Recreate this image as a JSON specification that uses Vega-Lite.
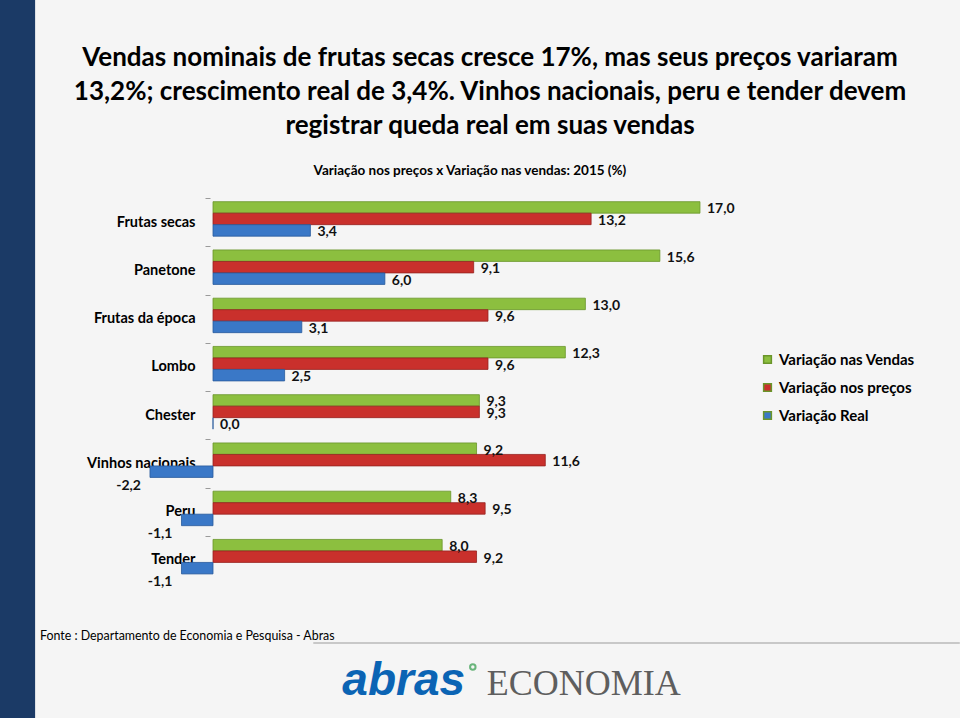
{
  "$schema": "https://vega.github.io/schema/vega-lite/v6.json",
  "autosize": {"type": "none"},
  "padding": {"left": 213, "top": 198, "right": 193, "bottom": 134},
  "width": 554,
  "height": 386,
  "background": "#f5f5f5",
  "title": {
    "text": [
      "Vendas nominais de frutas secas cresce 17%, mas seus preços variaram",
      "13,2%; crescimento real de 3,4%. Vinhos nacionais, peru e tender devem",
      "registrar queda real em suas vendas"
    ],
    "font": "Lato",
    "fontSize": 26,
    "fontWeight": "bold",
    "color": "#000000",
    "anchor": "middle",
    "frame": "group",
    "lineHeight": 34,
    "offset": -142
  },
  "layer": [
    {
      "data": {"values": [{"a": 1}]},
      "layer": [
        {
          "mark": {"type": "rect", "color": "#1b3a66"},
          "encoding": {
            "x": {"datum": -7.44, "type": "quantitative", "scale": {"domain": [0, 19.34], "nice": false, "zero": false}, "axis": null},
            "x2": {"datum": -6.21},
            "y": {"datum": 1.52, "type": "quantitative", "scale": {"domain": [0, 1], "nice": false, "zero": false}, "axis": null},
            "y2": {"datum": -0.35}
          }
        },
        {
          "mark": {"type": "rule", "color": "#c8c8c8", "strokeWidth": 2},
          "encoding": {
            "x": {"datum": 3.5, "type": "quantitative", "axis": null},
            "x2": {"datum": 26.07},
            "y": {"datum": -0.153, "type": "quantitative", "axis": null}
          }
        },
        {
          "mark": {"type": "text", "align": "center", "baseline": "middle", "font": "Lato", "fontSize": 13.5, "fontWeight": "bold", "color": "#000000"},
          "encoding": {
            "x": {"datum": 8.97, "type": "quantitative", "axis": null},
            "y": {"datum": 1.07, "type": "quantitative", "axis": null},
            "text": {"value": "Variação nos preços x Variação nas vendas: 2015 (%)"}
          }
        },
        {
          "mark": {"type": "text", "align": "left", "baseline": "middle", "font": "Lato", "fontSize": 12.4, "color": "#000000"},
          "encoding": {
            "x": {"datum": -6.04, "type": "quantitative", "axis": null},
            "y": {"datum": -0.1347, "type": "quantitative", "axis": null},
            "text": {"value": "Fonte : Departamento de Economia e Pesquisa  - Abras"}
          }
        },
        {
          "mark": {"type": "text", "align": "right", "baseline": "alphabetic", "font": "Liberation Sans", "fontSize": 46, "fontWeight": "bold", "fontStyle": "italic", "color": "#0b64b4"},
          "encoding": {
            "x": {"datum": 8.8, "type": "quantitative", "axis": null},
            "y": {"datum": -0.2876, "type": "quantitative", "axis": null},
            "text": {"value": "abras"}
          }
        },
        {
          "mark": {"type": "point", "shape": "circle", "filled": false, "color": "#2f9a48", "strokeWidth": 2, "size": 30},
          "encoding": {
            "x": {"datum": 9.07, "type": "quantitative", "axis": null},
            "y": {"datum": -0.215, "type": "quantitative", "axis": null}
          }
        },
        {
          "mark": {"type": "text", "align": "left", "baseline": "alphabetic", "font": "Liberation Serif", "fontSize": 36, "color": "#5e5e5e"},
          "encoding": {
            "x": {"datum": 9.56, "type": "quantitative", "axis": null},
            "y": {"datum": -0.2876, "type": "quantitative", "axis": null},
            "text": {"value": "ECONOMIA"}
          }
        }
      ]
    },
    {
      "data": {"values": [
        {"cat": "Frutas secas", "serie": "Variação nas Vendas", "valor": 17.0},
        {"cat": "Frutas secas", "serie": "Variação nos preços", "valor": 13.2},
        {"cat": "Frutas secas", "serie": "Variação Real", "valor": 3.4},
        {"cat": "Panetone", "serie": "Variação nas Vendas", "valor": 15.6},
        {"cat": "Panetone", "serie": "Variação nos preços", "valor": 9.1},
        {"cat": "Panetone", "serie": "Variação Real", "valor": 6.0},
        {"cat": "Frutas da época", "serie": "Variação nas Vendas", "valor": 13.0},
        {"cat": "Frutas da época", "serie": "Variação nos preços", "valor": 9.6},
        {"cat": "Frutas da época", "serie": "Variação Real", "valor": 3.1},
        {"cat": "Lombo", "serie": "Variação nas Vendas", "valor": 12.3},
        {"cat": "Lombo", "serie": "Variação nos preços", "valor": 9.6},
        {"cat": "Lombo", "serie": "Variação Real", "valor": 2.5},
        {"cat": "Chester", "serie": "Variação nas Vendas", "valor": 9.3},
        {"cat": "Chester", "serie": "Variação nos preços", "valor": 9.3},
        {"cat": "Chester", "serie": "Variação Real", "valor": 0.0},
        {"cat": "Vinhos nacionais", "serie": "Variação nas Vendas", "valor": 9.2},
        {"cat": "Vinhos nacionais", "serie": "Variação nos preços", "valor": 11.6},
        {"cat": "Vinhos nacionais", "serie": "Variação Real", "valor": -2.2},
        {"cat": "Peru", "serie": "Variação nas Vendas", "valor": 8.3},
        {"cat": "Peru", "serie": "Variação nos preços", "valor": 9.5},
        {"cat": "Peru", "serie": "Variação Real", "valor": -1.1},
        {"cat": "Tender", "serie": "Variação nas Vendas", "valor": 8.0},
        {"cat": "Tender", "serie": "Variação nos preços", "valor": 9.2},
        {"cat": "Tender", "serie": "Variação Real", "valor": -1.1}
      ]},
      "encoding": {
        "y": {
          "field": "cat",
          "type": "nominal",
          "sort": ["Frutas secas", "Panetone", "Frutas da época", "Lombo", "Chester", "Vinhos nacionais", "Peru", "Tender"],
          "scale": {"paddingInner": 0, "paddingOuter": 0},
          "axis": {
            "title": null,
            "domain": false,
            "grid": false,
            "ticks": true,
            "tickSize": 5,
            "tickColor": "#9a9a9a",
            "tickOffset": -24,
            "labelOffset": 24,
            "offset": 3,
            "labelPadding": 10,
            "labelFont": "Lato",
            "labelFontSize": 14.5,
            "labelFontWeight": "bold",
            "labelColor": "#000000"
          }
        },
        "x": {
          "field": "valor",
          "type": "quantitative",
          "scale": {"domain": [0, 19.34], "nice": false, "zero": false},
          "axis": null
        },
        "color": {
          "field": "serie",
          "type": "nominal",
          "scale": {
            "domain": ["Variação nas Vendas", "Variação nos preços", "Variação Real"],
            "range": ["#8cbf3f", "#c9302c", "#3a78c7"]
          },
          "legend": {
            "title": null,
            "orient": "none",
            "legendX": 547,
            "legendY": 154,
            "symbolType": "square",
            "symbolSize": 60,
            "labelFont": "Lato",
            "labelFontSize": 15,
            "labelFontWeight": "bold",
            "labelColor": "#000000",
            "rowPadding": 12,
            "labelLimit": 300
          }
        }
      },
      "layer": [
        {
          "transform": [{"filter": "datum.serie === 'Variação nas Vendas'"}],
          "mark": {"type": "bar", "height": {"band": 0.238}, "yOffset": -14.7, "stroke": "#6a952a", "strokeWidth": 0.8}
        },
        {
          "transform": [{"filter": "datum.serie === 'Variação nos preços'"}],
          "mark": {"type": "bar", "height": {"band": 0.238}, "yOffset": -3.2, "stroke": "#962220", "strokeWidth": 0.8}
        },
        {
          "transform": [{"filter": "datum.serie === 'Variação Real'"}],
          "mark": {"type": "bar", "height": {"band": 0.238}, "yOffset": 8.3, "stroke": "#285b9c", "strokeWidth": 0.8}
        },
        {
          "transform": [{"filter": "datum.serie === 'Variação nas Vendas'"}],
          "mark": {"type": "text", "align": "left", "baseline": "middle", "dx": 7, "yOffset": -12.7, "font": "Lato", "fontSize": 14, "fontWeight": "bold"},
          "encoding": {
            "color": {"value": "#111111"},
            "text": {"field": "valor", "type": "quantitative", "format": ".1f"}
          }
        },
        {
          "transform": [{"filter": "datum.serie === 'Variação nos preços'"}],
          "mark": {"type": "text", "align": "left", "baseline": "middle", "dx": 7, "yOffset": -1.2, "font": "Lato", "fontSize": 14, "fontWeight": "bold"},
          "encoding": {
            "color": {"value": "#111111"},
            "text": {"field": "valor", "type": "quantitative", "format": ".1f"}
          }
        },
        {
          "transform": [{"filter": "datum.serie === 'Variação Real' && datum.valor >= 0"}],
          "mark": {"type": "text", "align": "left", "baseline": "middle", "dx": 7, "yOffset": 10.3, "font": "Lato", "fontSize": 14, "fontWeight": "bold"},
          "encoding": {
            "color": {"value": "#111111"},
            "text": {"field": "valor", "type": "quantitative", "format": ".1f"}
          }
        },
        {
          "transform": [{"filter": "datum.serie === 'Variação Real' && datum.valor < 0"}],
          "mark": {"type": "text", "align": "right", "baseline": "middle", "dx": -9, "yOffset": 22.5, "font": "Lato", "fontSize": 14, "fontWeight": "bold"},
          "encoding": {
            "color": {"value": "#111111"},
            "text": {"field": "valor", "type": "quantitative", "format": ".1f"}
          }
        }
      ]
    }
  ],
  "resolve": {"scale": {"y": "independent"}},
  "config": {
    "view": {"stroke": null},
    "font": "Lato",
    "locale": {
      "number": {"decimal": ",", "thousands": ".", "grouping": [3], "currency": ["R$", ""], "minus": "-"}
    }
  }
}
